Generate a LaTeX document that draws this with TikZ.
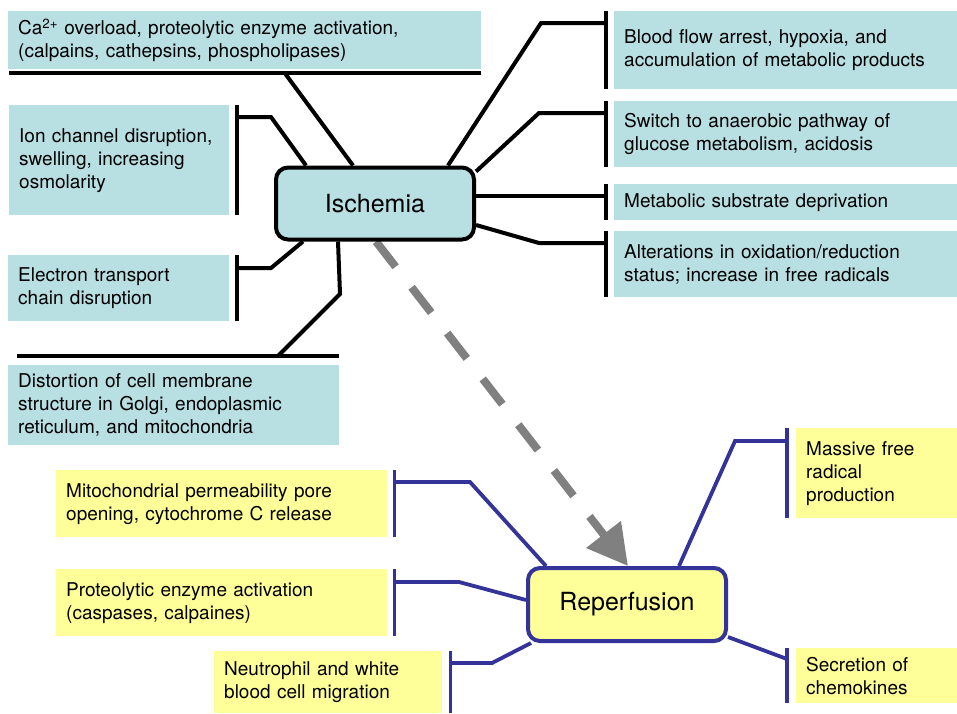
\documentclass[tikz,border=0pt]{standalone}
\usepackage{fontspec}
\setmainfont{TeX Gyre Heros}
\usetikzlibrary{arrows.meta,backgrounds}
\definecolor{teal1}{RGB}{184,223,226}
\definecolor{yel}{RGB}{255,255,153}
\definecolor{blu}{RGB}{51,51,153}
\definecolor{gry}{RGB}{128,128,128}
\begin{document}
\begin{tikzpicture}[x=1pt,y=-1pt,
 tbox/.style={rectangle, fill=teal1, inner xsep=10pt, inner ysep=0pt, align=left, anchor=north west, font=\fontsize{19}{23}\selectfont},
 ybox/.style={tbox, fill=yel},
 blk/.style={line width=4pt, black},
 bbl/.style={line width=3.8pt, blu},
 hub/.style={rectangle, rounded corners=12pt, line width=4pt, minimum width=198pt, minimum height=72pt, font=\fontsize{25}{28}\selectfont},
 garrow/.style={gry, line width=8pt, dash pattern=on 32pt off 26pt, -{Triangle[length=40pt,width=42pt]}}]
\useasboundingbox (0,0) rectangle (957,713);
% ischemia side boxes
\node[tbox, text width=453pt, minimum height=58pt] (ca) at (8,11) {Ca\textsuperscript{2+} overload, proteolytic enzyme activation,\\(calpains, cathepsins, phospholipases)};
\node[tbox, text width=200pt, minimum height=110pt] (ion) at (9,105) {Ion channel disruption,\\swelling, increasing\\osmolarity};
\node[tbox, text width=201pt, minimum height=66pt] (elec) at (8,255) {Electron transport\\chain disruption};
\node[tbox, text width=311pt, minimum height=80pt] (dist) at (8,365) {Distortion of cell membrane\\structure in Golgi, endoplasmic\\reticulum, and mitochondria};
\node[tbox, text width=323pt, minimum height=78pt] (bf) at (614,11) {Blood flow arrest, hypoxia, and\\accumulation of metabolic products};
\node[tbox, text width=323pt, minimum height=66pt] (sw) at (614,101) {Switch to anaerobic pathway of\\glucose metabolism, acidosis};
\node[tbox, text width=323pt, minimum height=36pt] (ms) at (614,184) {Metabolic substrate deprivation};
\node[tbox, text width=323pt, minimum height=66pt] (alt) at (614,231) {Alterations in oxidation/reduction\\status; increase in free radicals};
\node[hub, draw=black, fill=teal1] (isch) at (375,203.5) {Ischemia};
% reperfusion side boxes
\node[ybox, text width=311pt, minimum height=67pt] (mito) at (56,470) {Mitochondrial permeability pore\\opening, cytochrome C release};
\node[ybox, text width=311pt, minimum height=67pt] (prot) at (56,569) {Proteolytic enzyme activation\\(caspases, calpaines)};
\node[ybox, text width=208pt, minimum height=62pt] (neut) at (214,651) {Neutrophil and white\\blood cell migration};
\node[ybox, text width=141pt, minimum height=90pt] (mass) at (796,428) {Massive free\\radical\\production};
\node[ybox, text width=141pt, minimum height=55pt] (sec) at (796,648) {Secretion of\\chemokines};
\node[hub, draw=blu, fill=yel, minimum height=73pt] (rep) at (627,604.5) {Reperfusion};
\begin{scope}[on background layer]
% ischemia connectors
\draw[blk] ([xshift=1,yshift=-4]ca.south west) -- ([yshift=-4]ca.south east);
\draw[blk] ([xshift=277,yshift=-4]ca.south west) -- ([xshift=79]isch.north west);
\draw[blk] ([xshift=8]ion.north east) -- ([xshift=8]ion.south east);
\draw[blk] ([xshift=8,yshift=-12]ion.north east) -- (271,117) -- ([xshift=32]isch.north west);
\draw[blk] ([xshift=8]elec.north east) -- ([xshift=8]elec.south east);
\draw[blk] ([xshift=8,yshift=-13]elec.north east) -- (271,268) -- ([xshift=29]isch.south west);
\draw[blk] ([xshift=9,yshift=9]dist.north west) -- ([yshift=9]dist.north east);
\draw[blk] ([xshift=64]isch.south west) -- (340,294) -- ([xshift=270,yshift=9]dist.north west);
\draw[blk] ([xshift=-8]bf.north west) -- ([xshift=-8]bf.south west);
\draw[blk] ([xshift=-28]isch.north east) -- (541,23) -- ([xshift=-8,yshift=-12]bf.north west);
\draw[blk] ([xshift=-8]sw.north west) -- ([xshift=-8]sw.south west);
\draw[blk] ([yshift=-6]isch.north east) -- (539,113) -- ([xshift=-8,yshift=-12]sw.north west);
\draw[blk] ([xshift=-8]ms.north west) -- ([xshift=-8]ms.south west);
\draw[blk] ([yshift=7.5]isch.east) -- ([xshift=-8,yshift=-12]ms.north west);
\draw[blk] ([xshift=-8]alt.north west) -- ([xshift=-8]alt.south west);
\draw[blk] ([yshift=-21.5]isch.east) -- (539,243) -- ([xshift=-8,yshift=-12]alt.north west);
% reperfusion connectors
\draw[bbl] ([xshift=-9]mass.north west) -- ([xshift=-9]mass.south west);
\draw[bbl] ([xshift=153]rep.north west) -- (735,441) -- ([xshift=-9,yshift=-13]mass.north west);
\draw[bbl] ([xshift=-9]sec.north west) -- ([xshift=-9]sec.south west);
\draw[bbl] ([yshift=6]rep.south east) -- ([xshift=-9,yshift=-11]sec.north west);
\draw[bbl] ([xshift=7]mito.north east) -- ([xshift=7]mito.south east);
\draw[bbl] ([xshift=7,yshift=-12]mito.north east) -- (470,482) -- ([xshift=20]rep.north west);
\draw[bbl] ([xshift=7]prot.north east) -- ([xshift=7]prot.south east);
\draw[bbl] ([xshift=7,yshift=-13]prot.north east) -- (459,582) -- ([yshift=-34]rep.north west);
\draw[bbl] ([xshift=8]neut.north east) -- ([xshift=8]neut.south east);
\draw[bbl] ([xshift=8,yshift=-12]neut.north east) -- (492,663) -- ([xshift=5]rep.south west);
% dashed arrow
\draw[garrow] ([xshift=102]isch.south west) -- ([xshift=102]rep.north west);
\end{scope}
\end{tikzpicture}
\end{document}
